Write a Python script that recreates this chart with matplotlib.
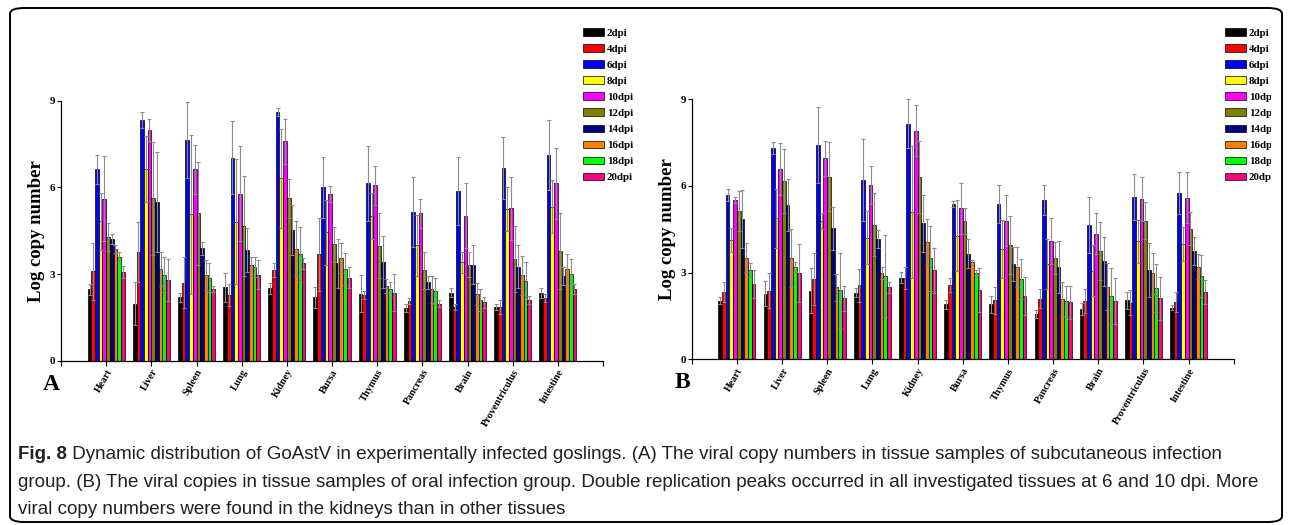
import numpy as np
import matplotlib
matplotlib.use("Agg")
import matplotlib.pyplot as plt
from matplotlib.patches import FancyBboxPatch
from matplotlib.transforms import Bbox, TransformedBbox

tissues = ["Heart", "Liver", "Spleen", "Lung", "Kidney", "Bursa", "Thymus",
           "Pancreas", "Brain", "Proventriculus", "Intestine"]
dpi_labels = ["2dpi", "4dpi", "6dpi", "8dpi", "10dpi", "12dpi", "14dpi",
              "16dpi", "18dpi", "20dpi"]
dpi_colors = ["#000000", "#ff0000", "#0000ff", "#ffff00", "#ff00ff",
              "#808000", "#000080", "#ff8000", "#00ff00", "#ff0080"]

# panel A: subcutaneous group, rows = tissues, cols = dpi
mean_a = [
    [2.47, 3.09, 6.63, 4.82, 5.60, 4.27, 4.21, 3.87, 3.59, 3.08],
    [1.97, 3.76, 8.34, 6.63, 8.00, 5.62, 5.48, 3.17, 2.98, 2.79],
    [2.19, 2.70, 7.64, 5.07, 6.62, 5.10, 3.89, 2.97, 2.88, 2.47],
    [2.54, 2.28, 7.03, 4.81, 5.78, 4.65, 3.84, 3.30, 3.25, 2.97],
    [2.50, 3.14, 8.62, 6.31, 7.60, 5.62, 4.52, 3.88, 3.68, 3.38],
    [2.19, 3.69, 6.00, 4.44, 5.78, 4.03, 3.37, 3.54, 3.17, 2.88],
    [2.32, 2.27, 6.14, 5.01, 6.07, 3.98, 3.42, 2.58, 2.47, 2.35],
    [1.83, 2.07, 5.15, 3.99, 5.10, 3.13, 2.71, 2.47, 2.42, 1.98],
    [2.35, 1.85, 5.87, 3.40, 5.02, 3.33, 3.33, 2.30, 2.10, 2.02],
    [1.86, 1.86, 6.66, 5.24, 5.27, 3.52, 3.25, 2.95, 2.76, 2.10],
    [2.33, 2.17, 7.13, 5.33, 6.14, 3.80, 2.93, 3.16, 2.99, 2.48],
]
err_a = [
    [0.20, 1.00, 0.50, 1.00, 1.47, 0.48, 0.17, 0.13, 0.17, 0.21],
    [0.75, 1.03, 0.27, 1.15, 0.38, 1.96, 1.73, 0.60, 0.61, 0.73],
    [0.15, 0.88, 1.33, 2.76, 0.85, 1.77, 0.23, 0.53, 0.50, 0.10],
    [0.51, 0.37, 1.25, 2.17, 1.64, 1.73, 0.76, 0.30, 0.34, 0.50],
    [0.20, 0.25, 0.14, 1.72, 0.78, 0.68, 0.86, 0.94, 0.96, 0.19],
    [0.35, 1.26, 1.06, 1.12, 0.27, 0.61, 0.86, 0.52, 0.55, 0.37],
    [0.65, 0.15, 1.29, 0.81, 0.67, 1.12, 0.90, 0.24, 0.26, 0.64],
    [0.15, 0.10, 1.20, 1.05, 0.50, 0.65, 0.23, 0.46, 0.46, 0.12],
    [0.15, 0.11, 1.17, 0.37, 1.12, 0.44, 0.69, 0.38, 0.37, 0.18],
    [0.10, 0.24, 1.07, 0.76, 1.10, 1.14, 0.74, 0.68, 0.64, 0.14],
    [0.17, 0.15, 1.21, 0.92, 1.24, 1.32, 0.32, 0.53, 0.52, 0.17],
]

# panel B: oral group
mean_b = [
    [2.03, 2.34, 5.68, 4.13, 5.52, 5.13, 4.86, 3.52, 3.09, 2.60],
    [2.27, 2.37, 7.30, 4.88, 6.59, 6.17, 5.34, 3.50, 3.20, 3.00],
    [2.37, 2.77, 7.42, 4.79, 6.96, 6.32, 4.53, 2.49, 2.39, 2.11],
    [2.31, 2.56, 6.21, 4.21, 6.03, 4.66, 4.17, 3.00, 2.88, 2.49],
    [2.83, 2.82, 8.15, 5.11, 7.92, 6.32, 4.71, 4.05, 3.50, 3.09],
    [1.90, 2.57, 5.38, 4.28, 5.23, 4.78, 3.66, 3.38, 3.00, 2.40],
    [1.90, 2.05, 5.38, 3.81, 4.80, 3.96, 3.30, 3.21, 2.78, 2.19],
    [1.57, 2.09, 5.52, 3.29, 4.10, 3.52, 3.18, 2.10, 2.01, 1.97],
    [1.73, 2.02, 4.65, 3.07, 4.34, 3.74, 3.40, 2.52, 2.19, 2.01],
    [2.04, 1.96, 5.61, 4.08, 5.55, 4.79, 3.09, 2.98, 2.46, 2.11],
    [1.79, 1.98, 5.75, 3.99, 5.60, 4.52, 3.74, 3.21, 2.88, 2.33],
]
err_b = [
    [0.12, 0.34, 0.20, 0.40, 0.11, 0.70, 1.00, 0.50, 0.23, 0.49],
    [0.43, 0.61, 0.21, 1.02, 0.91, 1.10, 0.90, 1.00, 0.18, 1.00],
    [0.78, 0.90, 1.30, 0.29, 0.60, 1.19, 0.73, 0.46, 1.30, 0.44],
    [0.15, 0.56, 1.41, 0.92, 0.67, 1.09, 0.31, 0.21, 1.42, 0.20],
    [0.20, 0.39, 0.85, 2.29, 0.88, 1.24, 0.98, 0.80, 1.12, 0.78],
    [0.15, 0.23, 0.11, 1.24, 0.89, 0.45, 0.49, 0.06, 0.09, 0.77],
    [0.30, 0.47, 0.65, 1.01, 0.89, 1.00, 0.60, 0.69, 0.68, 0.67],
    [0.14, 0.33, 0.51, 0.86, 0.80, 0.55, 0.90, 0.59, 0.53, 0.57],
    [0.21, 0.40, 0.96, 0.89, 0.71, 1.00, 0.85, 0.80, 0.98, 0.79],
    [0.29, 0.44, 0.79, 0.74, 0.77, 0.64, 0.93, 0.71, 0.83, 0.75],
    [0.10, 0.35, 0.73, 0.58, 0.88, 0.58, 0.48, 0.42, 0.73, 0.42],
]

caption_bold = "Fig. 8"
caption_lines = [
    " Dynamic distribution of GoAstV in experimentally infected goslings. (A) The viral copy numbers in tissue samples of subcutaneous infection",
    "group. (B) The viral copies in tissue samples of oral infection group. Double replication peaks occurred in all investigated tissues at 6 and 10 dpi. More",
    "viral copy numbers were found in the kidneys than in other tissues",
]

W, H = 1290, 525
fig = plt.figure(figsize=(W / 100, H / 100), dpi=100)
serif = "Liberation Serif"


def draw_panel(left_px, zero_px, means, errs, letter, legend_x, clip_x=None):
    right_px = left_px + 542
    top_px = zero_px - 260
    ax = fig.add_axes([left_px / W, 1 - zero_px / H, (right_px - left_px) / W, (zero_px - top_px) / H])
    x = np.arange(len(tissues))
    w = 0.082
    for i, lab in enumerate(dpi_labels):
        vals = [row[i] for row in means]
        e = [row[i] for row in errs]
        pos = x + (i - 4.5) * w
        ax.bar(pos, vals, w, color=dpi_colors[i], edgecolor="black", linewidth=0.5, label=lab, zorder=2)
        eb = ax.errorbar(pos, vals, yerr=e, fmt="none", ecolor="#8c8c8c", elinewidth=0.8,
                         capsize=1.4, capthick=0.8, zorder=3)
        for art in eb.lines[1] + eb.lines[2]:
            art.set_clip_on(False)
    ax.set_xlim(-1, 11)
    ax.set_ylim(0, 9)
    ax.set_yticks([0, 3, 6, 9])
    ax.set_xticks(x)
    ax.set_xticks([-1, 11], minor=True)
    ax.set_xticklabels(tissues, rotation=60, ha="right", va="top", rotation_mode="anchor",
                       family=serif, weight="bold", fontsize=7.3)
    for lab in ax.get_yticklabels():
        lab.set_family(serif)
        lab.set_weight("bold")
        lab.set_fontsize(8)
    ax.tick_params(axis="x", which="both", length=3.5, width=0.8, pad=1.5)
    ax.tick_params(axis="y", length=3, width=0.8, pad=1)
    for s in ["top", "right"]:
        ax.spines[s].set_visible(False)
    for s in ["left", "bottom"]:
        ax.spines[s].set_linewidth(0.9)
    ax.set_ylabel("Log copy number", family=serif, weight="bold", fontsize=13.5)
    ax.yaxis.set_label_coords(-0.029, 0.5)
    ax.text(-0.018, -0.05, letter, transform=ax.transAxes, family=serif, weight="bold",
            fontsize=17, ha="center", va="top")
    leg = ax.legend(loc="upper left", bbox_to_anchor=(legend_x / W, 1 - 28 / H),
                    bbox_transform=fig.transFigure, frameon=False,
                    prop={"family": serif, "weight": "bold", "size": 7.8},
                    handlelength=1.95, handleheight=0.7, labelspacing=0.6,
                    handletextpad=0.25, borderaxespad=0, borderpad=0)
    if clip_x is not None:
        cb = TransformedBbox(Bbox([[0, 0], [clip_x / W, 1]]), fig.transFigure)
        for t in leg.get_texts():
            t.set_clip_box(cb)
            t.set_clip_on(True)
    return ax


draw_panel(61, 360.7, mean_a, err_a, "A", 583)
draw_panel(691.7, 359.3, mean_b, err_b, "B", 1225, clip_x=1271)

# rounded frame around the figure
frame = FancyBboxPatch((10 / W, 3 / H), 1272 / W, 514 / H, boxstyle="round,pad=0,rounding_size=0.011",
                       transform=fig.transFigure, fill=False, edgecolor="black", linewidth=1.4)
fig.add_artist(frame)

# caption, scaled so the longest line fits the frame
cap_font = "Liberation Sans"
cap_color = "#231f20"
renderer = fig.canvas.get_renderer()
size = 12
tb = fig.text(18 / W, 1 - 459 / H, caption_bold, family=cap_font, weight="bold", fontsize=size, color=cap_color)
tr = fig.text(0, 1 - 459 / H, caption_lines[0], family=cap_font, fontsize=size, color=cap_color)
t2 = fig.text(18 / W, 1 - 487 / H, caption_lines[1], family=cap_font, fontsize=size, color=cap_color)
t3 = fig.text(18 / W, 1 - 514 / H, caption_lines[2], family=cap_font, fontsize=size, color=cap_color)
w1 = tb.get_window_extent(renderer).width + tr.get_window_extent(renderer).width
w2 = t2.get_window_extent(renderer).width
size = size * min((1257 - 18) / w1, (1264 - 18) / w2)
for t in (tb, tr, t2, t3):
    t.set_fontsize(size)
wb = tb.get_window_extent(renderer).width
tr.set_x((18 + wb) / W)

fig.savefig("out.png", dpi=100)
